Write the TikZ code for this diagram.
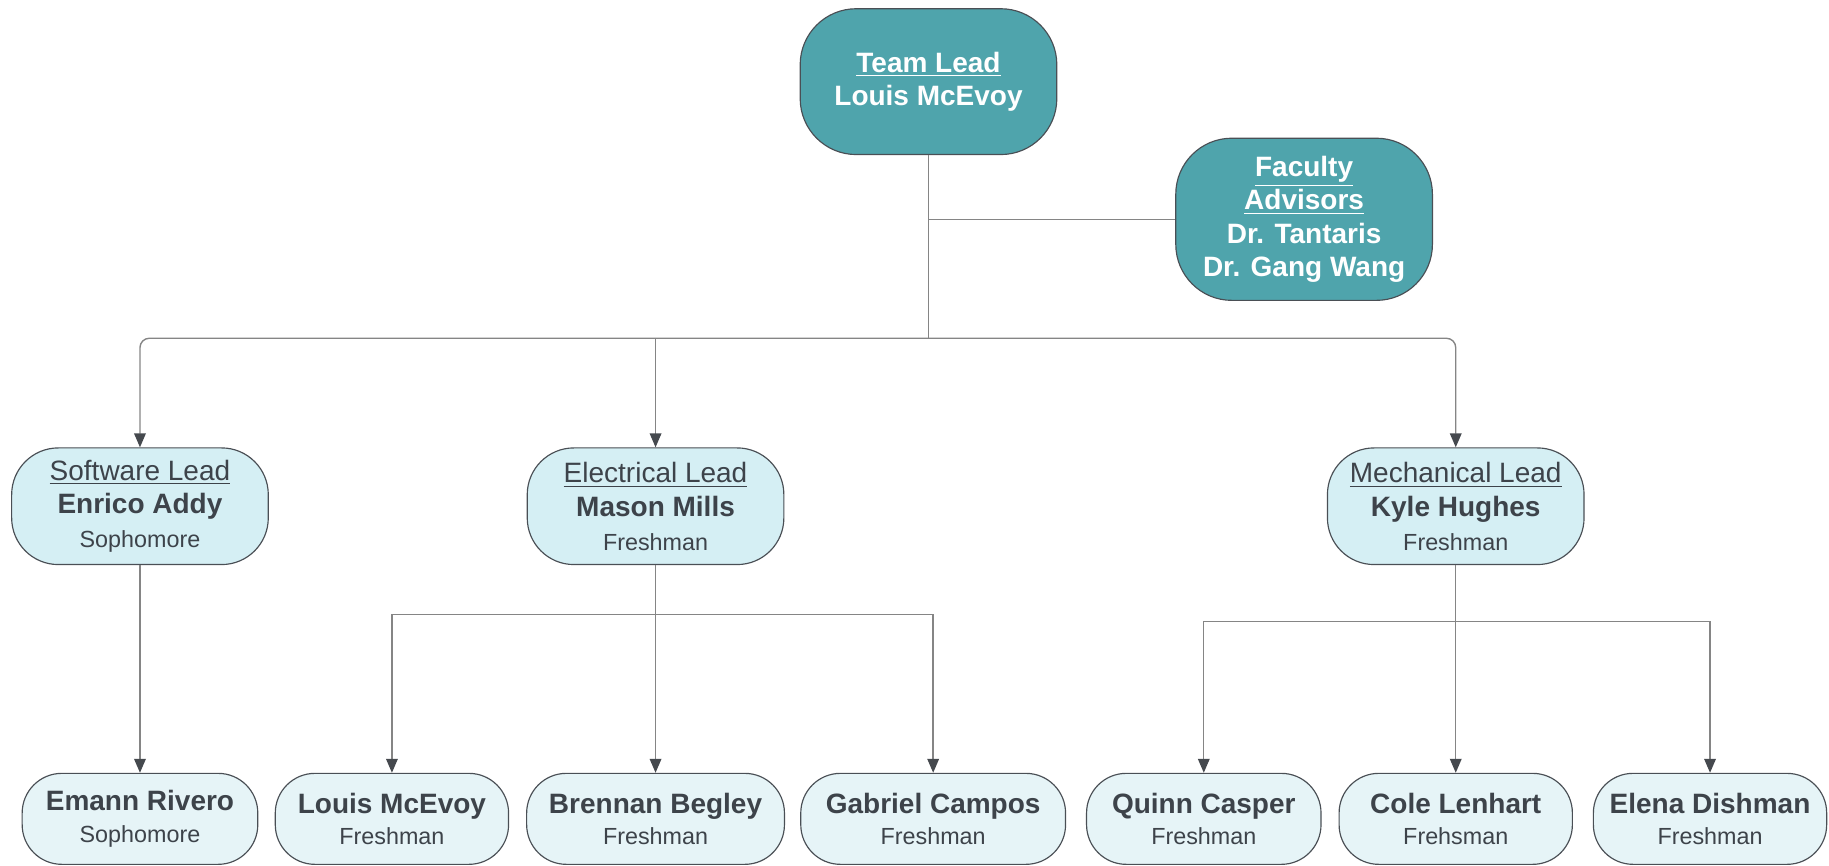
\documentclass[tikz,border=0pt]{standalone}
\usepackage{fontspec}
\setmainfont{Liberation Sans}
\usetikzlibrary{arrows.meta}
\definecolor{tealbox}{HTML}{4FA4AC}
\definecolor{leadfill}{HTML}{D5EFF4}
\definecolor{crewfill}{HTML}{E6F4F7}
\definecolor{inkgray}{HTML}{3D434A}
\definecolor{edgegray}{HTML}{4A4F55}
\definecolor{linegray}{HTML}{858585}
\definecolor{tipgray}{HTML}{45494E}
\begin{document}
\begin{tikzpicture}[x=0.5pt, y=-0.5pt,
    box/.style={draw=edgegray, line width=0.5pt, inner sep=0pt, align=center},
    head/.style={box, fill=tealbox, text=white, rounded corners=24pt, minimum width=110pt,
      font=\bfseries\fontsize{12}{14.2}\selectfont},
    lead/.style={box, fill=leadfill, text=inkgray, rounded corners=20pt, minimum width=110pt,
      minimum height=50pt, font=\fontsize{12}{14.5}\selectfont},
    crew/.style={box, fill=crewfill, text=inkgray, rounded corners=17pt, minimum height=39pt,
      font=\fontsize{12}{13.5}\selectfont},
    link/.style={draw=linegray, line width=0.6pt},
    arr/.style={link, -{Triangle[width=5pt, length=6pt, color=tipgray]}}]
    \useasboundingbox (0, 0) rectangle (1568, 742);
    \node [head, minimum height=62.5pt] (t) at (796, 70) {\underline{Team Lead}\\Louis McEvoy};
    \node [head, minimum height=69.5pt] (f) at (1118, 188)
      {\underline{Faculty}\\\underline{Advisors}\\Dr. Tantaris\\Dr. Gang Wang};
    \node [lead] (sw) at (120, 434)
      {\underline{Software Lead}\\{\bfseries Enrico Addy}\\{\fontsize{10}{12}\selectfont Sophomore}};
    \node [lead] (el) at (562, 434)
      {\underline{Electrical Lead}\\{\bfseries Mason Mills}\\{\fontsize{10}{12}\selectfont Freshman}};
    \node [lead] (me) at (1248, 434)
      {\underline{Mechanical Lead}\\{\bfseries Kyle Hughes}\\{\fontsize{10}{12}\selectfont Freshman}};
    \node [crew, minimum width=101pt] (er) at (120, 702)
      {{\bfseries Emann Rivero}\\{\fontsize{10}{12}\selectfont Sophomore}};
    \node [crew, minimum width=100pt] (lm) at (336, 702)
      {{\bfseries Louis McEvoy}\\{\fontsize{10}{12}\selectfont Freshman}};
    \node [crew, minimum width=110.5pt] (bb) at (562, 702)
      {{\bfseries Brennan Begley}\\{\fontsize{10}{12}\selectfont Freshman}};
    \node [crew, minimum width=113.5pt] (gc) at (800, 702)
      {{\bfseries Gabriel Campos}\\{\fontsize{10}{12}\selectfont Freshman}};
    \node [crew, minimum width=100.5pt] (qc) at (1032, 702)
      {{\bfseries Quinn Casper}\\{\fontsize{10}{12}\selectfont Freshman}};
    \node [crew, minimum width=100pt] (cl) at (1248, 702)
      {{\bfseries Cole Lenhart}\\{\fontsize{10}{12}\selectfont Frehsman}};
    \node [crew, minimum width=100pt] (ed) at (1466, 702)
      {{\bfseries Elena Dishman}\\{\fontsize{10}{12}\selectfont Freshman}};
    \coordinate (bus) at (796, 290);
    \coordinate (ebus) at (562, 527);
    \coordinate (mbus) at (1248, 533);
    \draw [link] (t) -- (bus);
    \draw [link] (t.south |- f) -- (f);
    \draw [arr, rounded corners=4pt] (bus) -| (sw);
    \draw [arr] (bus) -| (el);
    \draw [arr, rounded corners=4pt] (bus) -| (me);
    \draw [arr] (sw) -- (er);
    \draw [arr] (el) -- (bb);
    \draw [arr] (ebus) -| (lm);
    \draw [arr] (ebus) -| (gc);
    \draw [arr] (me) -- (cl);
    \draw [arr] (mbus) -| (qc);
    \draw [arr] (mbus) -| (ed);
  \end{tikzpicture}
\end{document}
